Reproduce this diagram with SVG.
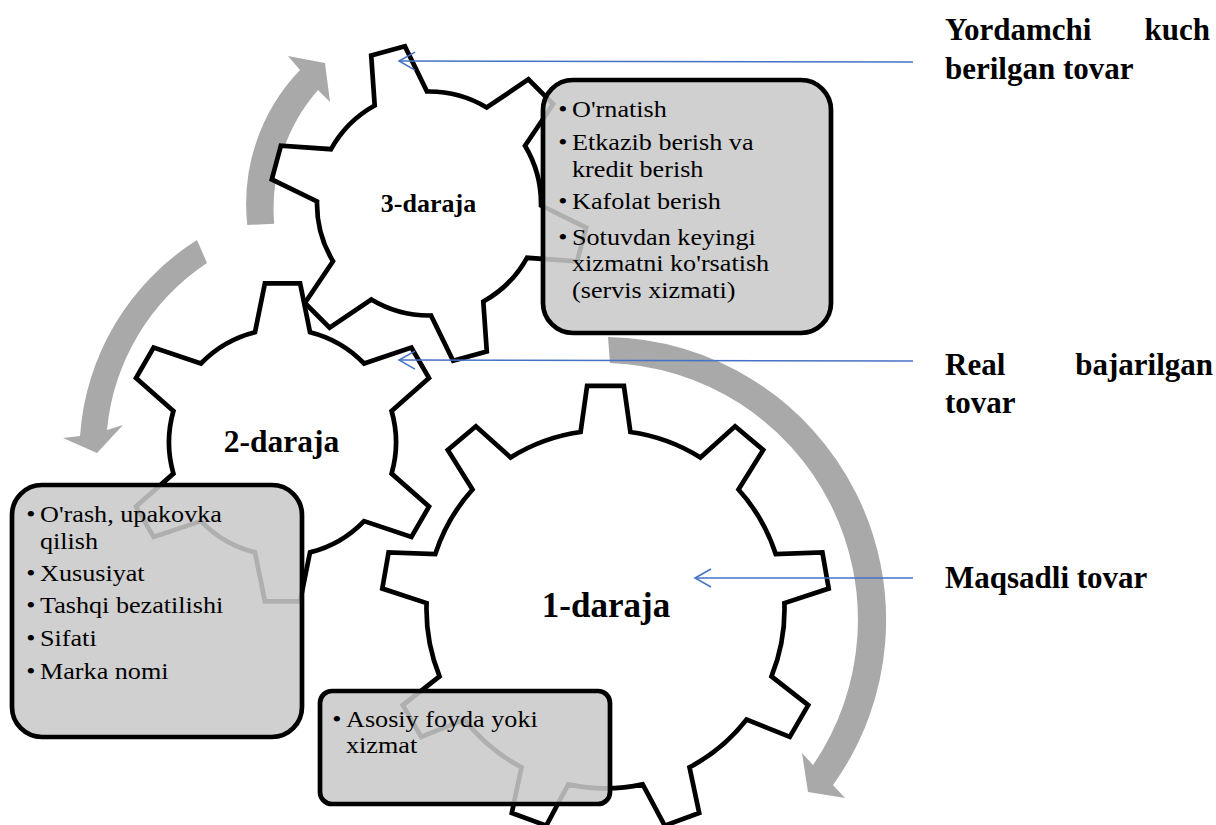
<svg xmlns="http://www.w3.org/2000/svg" width="1216" height="825" viewBox="0 0 1216 825">
<style>
.gear{fill:#fff;stroke:#000;stroke-width:4.7;stroke-linejoin:miter}
.box{fill:#c9c9c9;fill-opacity:0.87;stroke:#000;stroke-width:4.7}
.arrow{fill:#a9a9a9}
.lbl{font-family:"Liberation Serif","Times New Roman",serif;font-weight:bold;fill:#000}
.txt{font-family:"Liberation Serif","Times New Roman",serif;font-size:24px;fill:#000}
.conn{stroke:#4472c4;stroke-width:1.5;fill:none;marker-end:url(#open)}
</style>
<defs>
<marker id="open" viewBox="0 0 20 20" refX="18" refY="10" markerWidth="20" markerHeight="20" markerUnits="userSpaceOnUse" orient="auto">
<path d="M2,1 L18,10 L2,19" fill="none" stroke="#4472c4" stroke-width="1.5"/>
</marker>
</defs>
<g id="arrows">
<path class="arrow" d="M608,337 A283,283 0 0 1 833,785 L845,798 L808,792 L802,753 L813,765 A257,257 0 0 0 610,363 Z"/>
<path class="arrow" d="M197,240 A252,252 0 0 0 80,436 L63,438 L97,453 L123,425 L107,430 A225,225 0 0 1 207,263 Z"/>
<path class="arrow" d="M247.3,225 A193,193 0 0 1 300,70 L288,56 L325,63 L330,102 L318,90 A180,180 0 0 0 274.2,223.7 Z"/>
</g>
<g id="level1">
<path class="gear" d="M580.6,432.0 L587.1,385.9 L623.9,385.9 L630.4,432.0 A179,179 0 0 1 700.4,457.5 L735.1,426.3 L763.2,449.9 L738.5,489.5 A179,179 0 0 1 775.7,554.0 L822.4,552.4 L828.7,588.6 L784.4,603.1 A179,179 0 0 1 771.5,676.4 L808.2,705.1 L789.8,736.9 L746.6,719.5 A179,179 0 0 1 689.5,767.3 L699.2,813.0 L664.7,825.6 L642.7,784.4 A179,179 0 0 1 568.3,784.4 L546.3,825.6 L511.8,813.0 L521.5,767.3 A179,179 0 0 1 464.4,719.5 L421.2,736.9 L402.8,705.1 L439.5,676.4 A179,179 0 0 1 426.6,603.1 L382.3,588.6 L388.6,552.4 L435.3,554.0 A179,179 0 0 1 472.5,489.5 L447.8,449.9 L475.9,426.3 L510.6,457.5 A179,179 0 0 1 580.6,432.0 Z"/>
<text class="lbl" x="606" y="617" font-size="35" text-anchor="middle">1-daraja</text>
</g>
<g id="level2">
<path class="gear" d="M255.0,332.2 L264.9,283.3 L300.1,283.3 L310.0,332.2 A113.5,113.5 0 0 1 364.1,363.5 L411.4,347.6 L429.0,378.0 L391.6,411.0 A113.5,113.5 0 0 1 391.6,473.6 L429.0,506.6 L411.4,537.0 L364.1,521.1 A113.5,113.5 0 0 1 310.0,552.4 L300.1,601.3 L264.9,601.3 L255.0,552.4 A113.5,113.5 0 0 1 200.9,521.1 L153.6,537.0 L136.0,506.6 L173.4,473.6 A113.5,113.5 0 0 1 173.4,411.0 L136.0,378.0 L153.6,347.6 L200.9,363.5 A113.5,113.5 0 0 1 255.0,332.2 Z"/>
<text class="lbl" x="281.5" y="451.5" font-size="31.5" text-anchor="middle">2-daraja</text>
</g>
<g id="level3">
<path class="gear" d="M541.0,205.5 L586.2,227.6 L577.1,261.3 L527.0,257.8 A112,112 0 0 1 483.3,301.5 L486.8,351.6 L453.1,360.7 L431.0,315.5 A112,112 0 0 1 371.3,299.5 L329.6,327.6 L304.9,302.9 L333.0,261.2 A112,112 0 0 1 317.0,201.5 L271.8,179.4 L280.9,145.7 L331.0,149.2 A112,112 0 0 1 374.7,105.5 L371.2,55.4 L404.9,46.3 L427.0,91.5 A112,112 0 0 1 486.7,107.5 L528.4,79.4 L553.1,104.1 L525.0,145.8 A112,112 0 0 1 541.0,205.5 Z"/>
<text class="lbl" x="428.5" y="211.5" font-size="26" text-anchor="middle">3-daraja</text>
</g>
<g id="box3">
<rect class="box" x="543" y="80" width="288" height="253" rx="30" ry="30"/>
<text class="txt" transform="translate(572,0) scale(1.09,1)">
<tspan x="-12.6" y="117">•</tspan><tspan x="0" y="117">O'rnatish</tspan>
<tspan x="-12.6" y="150.5">•</tspan><tspan x="0" y="150.5">Etkazib berish va</tspan>
<tspan x="0" y="177">kredit berish</tspan>
<tspan x="-12.6" y="209.5">•</tspan><tspan x="0" y="209.5">Kafolat berish</tspan>
<tspan x="-12.6" y="245">•</tspan><tspan x="0" y="245">Sotuvdan keyingi</tspan>
<tspan x="0" y="271.5">xizmatni ko'rsatish</tspan>
<tspan x="0" y="298">(servis xizmati)</tspan>
</text>
</g>
<g id="box2">
<rect class="box" x="12" y="485" width="290" height="252" rx="30" ry="30"/>
<text class="txt" transform="translate(40,0) scale(1.09,1)">
<tspan x="-12.6" y="522.5">•</tspan><tspan x="0" y="522.5">O'rash, upakovka</tspan>
<tspan x="0" y="549.5">qilish</tspan>
<tspan x="-12.6" y="581.5">•</tspan><tspan x="0" y="581.5">Xususiyat</tspan>
<tspan x="-12.6" y="613">•</tspan><tspan x="0" y="613">Tashqi bezatilishi</tspan>
<tspan x="-12.6" y="646.5">•</tspan><tspan x="0" y="646.5">Sifati</tspan>
<tspan x="-12.6" y="679">•</tspan><tspan x="0" y="679">Marka nomi</tspan>
</text>
</g>
<g id="box1">
<rect class="box" x="320" y="691" width="290" height="113" rx="12" ry="12"/>
<text class="txt" transform="translate(346,0) scale(1.09,1)">
<tspan x="-12.6" y="727">•</tspan><tspan x="0" y="727">Asosiy foyda yoki</tspan>
<tspan x="0" y="753.5">xizmat</tspan>
</text>
</g>
<g id="label-yordamchi">
<text class="lbl" font-size="31" x="945" y="40">Yordamchi</text>
<text class="lbl" font-size="31" x="1210" y="40" text-anchor="end">kuch</text>
<text class="lbl" font-size="31" x="945" y="79">berilgan tovar</text>
</g>
<g id="label-real">
<text class="lbl" font-size="31" x="945" y="375">Real</text>
<text class="lbl" font-size="31" x="1213" y="375" text-anchor="end">bajarilgan</text>
<text class="lbl" font-size="31" x="945" y="413">tovar</text>
</g>
<g id="label-maqsadli">
<text class="lbl" font-size="31" x="945" y="588">Maqsadli tovar</text>
</g>
<g id="connectors">
<line class="conn" x1="913" y1="62" x2="399" y2="61"/>
<line class="conn" x1="913" y1="361" x2="399" y2="360"/>
<line class="conn" x1="913" y1="578" x2="695" y2="578"/>
</g>
</svg>
